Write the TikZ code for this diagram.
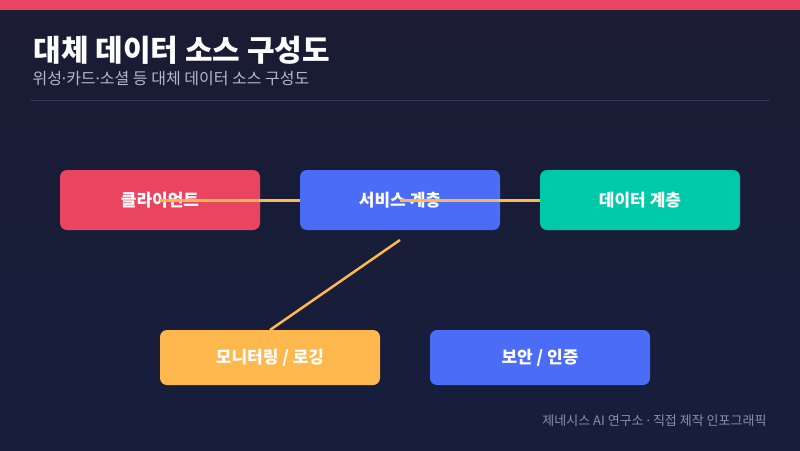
\documentclass[tikz,border=0pt]{standalone}
\usepackage{fontspec}
\setmainfont{Noto Sans CJK KR}
\newfontfamily\dotfont{Noto Sans}
\newcommand{\md}{{\dotfont ·}}
\definecolor{bgtop}{HTML}{1B1B33}
\definecolor{bgbot}{HTML}{161E3C}
\definecolor{cred}{HTML}{E94560}
\definecolor{cblue}{HTML}{4A6CF7}
\definecolor{cteal}{HTML}{00C9A7}
\definecolor{corange}{HTML}{FFB84D}
\definecolor{csub}{HTML}{B4B8CC}
\definecolor{cfoot}{HTML}{8A8FA8}
\definecolor{csep}{HTML}{34365A}
\tikzset{
  box/.style={inner sep=0pt, text=white, font=\fontsize{17}{20}\selectfont\bfseries},
  boxfill/.style={rounded corners=7pt},
  link/.style={draw=corange, line width=3pt},
}
\begin{document}
\begin{tikzpicture}[x=1pt,y=-1pt]
\useasboundingbox (0,0) rectangle (800,450);
\shade[top color=bgtop, bottom color=bgbot] (0,0) rectangle (800,450);
\fill[cred] (0,0) rectangle (800,10);
\node[anchor=west, text=white, font=\fontsize{30}{34}\selectfont\bfseries] (title) at (30,50) {대체 데이터 소스 구성도};
\node[anchor=west, text=csub, font=\fontsize{16}{19}\selectfont] (sub) at (29,78.5) {위성\md 카드\md 소셜 등 대체 데이터 소스 구성도};
\draw[csep, line width=1pt] (30,100) -- (770,100);
\fill[cred, boxfill] (60,170) rectangle (260,230);
\node[box] (client) at (160,200) {클라이언트};
\coordinate (svc) at (400,200);
\draw[link] (client.center) -- (svc);
\fill[cblue, boxfill] (300,170) rectangle (500,230);
\node[box] (service) at (400,200) {서비스 계층};
\coordinate (dat) at (640,200);
\draw[link] (service.center) -- (dat);
\fill[cteal, boxfill] (540,170) rectangle (740,230);
\node[box] (data) at (640,200) {데이터 계층};
\coordinate (s1) at (400,240);
\coordinate (m1) at (270,330);
\draw[draw=corange, line width=2.5pt] (s1) -- (m1);
\fill[corange, boxfill] (160,330) rectangle (380,385);
\node[box] (monitor) at (270,357.5) {모니터링 / 로깅};
\fill[cblue, boxfill] (430,330) rectangle (650,385);
\node[box] (security) at (540,357.5) {보안 / 인증};
\node[anchor=east, text=cfoot, font=\fontsize{13}{15}\selectfont] (foot) at (770,421) {제네시스 AI 연구소 \md{} 직접 제작 인포그래픽};
\end{tikzpicture}
\end{document}
